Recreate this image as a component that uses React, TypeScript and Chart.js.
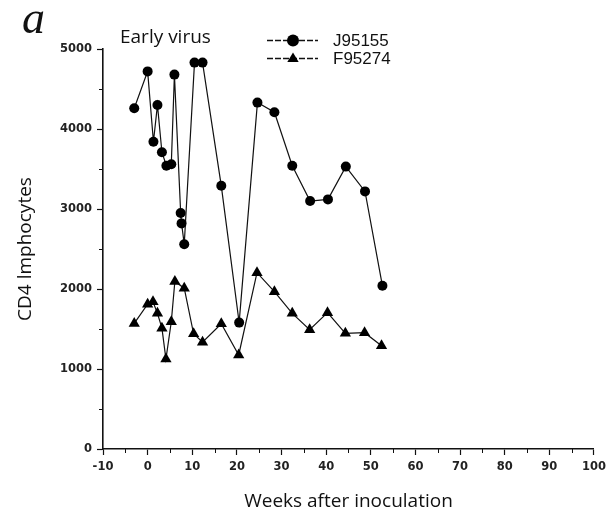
import React, { useEffect, useRef } from 'react';
import { Chart, registerables } from 'chart.js';

Chart.register(...registerables);

// ---- data ----
const j95155Weeks = [-3, 0, 1.3, 2.2, 3.2, 4.2, 5.3, 6, 7.4, 7.6, 8.2, 10.5, 12.3, 16.5, 20.5, 24.6, 28.4, 32.4, 36.4, 40.4, 44.4, 48.7, 52.6];
const j95155Counts = [4260, 4720, 3840, 4300, 3710, 3540, 3560, 4680, 2950, 2820, 2560, 4830, 4830, 3290, 1580, 4330, 4210, 3540, 3100, 3120, 3530, 3220, 2040];

const f95274Weeks = [-3, 0, 1.2, 2.2, 3.2, 4.1, 5.3, 6.1, 8.2, 10.3, 12.3, 16.5, 20.4, 24.5, 28.4, 32.4, 36.3, 40.3, 44.3, 48.6, 52.4];
const f95274Counts = [1570, 1810, 1840, 1696, 1510, 1125, 1590, 2095, 2010, 1440, 1335, 1565, 1175, 2204, 1966, 1696, 1492, 1704, 1446, 1454, 1290];

const seriesLabels = ['J95155', 'F95274'];
const seriesMarkers = ['circle', 'triangle'];

const xTickValues = [-10, 0, 10, 20, 30, 40, 50, 60, 70, 80, 90, 100];
const xMinorTicks = [-5, 5, 15, 25, 35, 45, 55, 65, 75, 85, 95];
const yTickValues = [0, 1000, 2000, 3000, 4000, 5000];
const yMinorTicks = [500, 1500, 2500, 3500, 4500];

const panelLetter = 'a';
const panelTitle = 'Early virus';
const xTitle = 'Weeks after inoculation';
const yTitle = 'CD4 lmphocytes';

const INK = '#111';

function drawMarker(ctx: CanvasRenderingContext2D, style: string, x: number, y: number, r: number) {
  ctx.beginPath();
  if (style === 'triangle') {
    ctx.moveTo(x, y - r);
    ctx.lineTo(x + r * 0.95, y + r * 0.6);
    ctx.lineTo(x - r * 0.95, y + r * 0.6);
    ctx.closePath();
  } else {
    ctx.arc(x, y, r, 0, Math.PI * 2);
  }
  ctx.fill();
}

const decorPlugin = {
  id: 'decor',
  afterDraw(chart: any) {
    const ctx: CanvasRenderingContext2D = chart.ctx;
    const xs = chart.scales.x;
    const ys = chart.scales.y;
    const area = chart.chartArea;
    ctx.save();
    // minor ticks
    ctx.strokeStyle = INK;
    ctx.lineWidth = 1;
    ctx.beginPath();
    for (const v of xMinorTicks) {
      const px = Math.round(xs.getPixelForValue(v)) + 0.5;
      ctx.moveTo(px, area.bottom);
      ctx.lineTo(px, area.bottom + 4);
    }
    for (const v of yMinorTicks) {
      const py = Math.round(ys.getPixelForValue(v)) + 0.5;
      ctx.moveTo(area.left, py);
      ctx.lineTo(area.left - 4, py);
    }
    ctx.stroke();

    // panel letter
    ctx.fillStyle = INK;
    ctx.textBaseline = 'alphabetic';
    ctx.textAlign = 'left';
    ctx.font = 'italic 46px "Liberation Serif"';
    ctx.fillText(panelLetter, 22, 33);

    // panel title
    ctx.font = '19px "Open Sans"';
    ctx.fillText(panelTitle, 120, 43);

    // legend
    const rows = [40, 58];
    chart.data.datasets.forEach((ds: any, i: number) => {
      const y = rows[i];
      ctx.strokeStyle = INK;
      ctx.lineWidth = 1.3;
      ctx.setLineDash([6, 2]);
      ctx.beginPath();
      ctx.moveTo(267, y + 0.5);
      ctx.lineTo(318, y + 0.5);
      ctx.stroke();
      ctx.setLineDash([]);
      ctx.fillStyle = '#000';
      drawMarker(ctx, seriesMarkers[i], 293, y + 0.5, 6);
      ctx.fillStyle = INK;
      ctx.font = '17px "Liberation Sans"';
      ctx.textBaseline = 'middle';
      ctx.fillText(ds.label, 333, y + 1);
    });
    ctx.restore();
  },
};

export default function App() {
  const canvasRef = useRef<HTMLCanvasElement | null>(null);

  useEffect(() => {
    const canvas = canvasRef.current;
    if (!canvas) return;
    const tickFont = { family: '"DejaVu Sans"', size: 11.5, weight: 'bold' as const };
    const chart = new Chart(canvas, {
      type: 'line',
      data: {
        datasets: [
          {
            label: seriesLabels[0],
            data: j95155Weeks.map((w, i) => ({ x: w, y: j95155Counts[i] })),
            borderColor: INK,
            borderWidth: 1.2,
            pointStyle: seriesMarkers[0] as any,
            pointRadius: 5,
            pointBackgroundColor: '#000',
            pointBorderColor: '#000',
            pointBorderWidth: 0,
            tension: 0,
            fill: false,
          },
          {
            label: seriesLabels[1],
            data: f95274Weeks.map((w, i) => ({ x: w, y: f95274Counts[i] })),
            borderColor: INK,
            borderWidth: 1.2,
            pointStyle: seriesMarkers[1] as any,
            pointRadius: 6.5,
            pointBackgroundColor: '#000',
            pointBorderColor: '#000',
            pointBorderWidth: 0,
            tension: 0,
            fill: false,
          },
        ],
      },
      options: {
        responsive: false,
        animation: false,
        events: [],
        layout: { padding: { top: 49, right: 14, left: 0, bottom: 0 } },
        plugins: { legend: { display: false }, tooltip: { enabled: false }, title: { display: false } },
        scales: {
          x: {
            type: 'linear',
            min: -10,
            max: 100,
            afterBuildTicks: (s: any) => {
              s.ticks = xTickValues.map((v) => ({ value: v }));
            },
            afterFit: (s: any) => {
              s.height = 68;
            },
            grid: { display: true, drawOnChartArea: false, drawTicks: true, tickLength: 6, color: INK, tickColor: INK, tickWidth: 1.2 },
            border: { display: true, color: INK, width: 1.6 },
            ticks: { font: tickFont, color: '#222', padding: 5, maxRotation: 0, autoSkip: false, callback: (v: any) => String(v) },
            title: { display: true, text: xTitle, color: INK, font: { family: '"Open Sans"', size: 19 }, padding: { top: 0, bottom: 4 } },
          },
          y: {
            type: 'linear',
            min: 0,
            max: 5000,
            afterBuildTicks: (s: any) => {
              s.ticks = yTickValues.map((v) => ({ value: v }));
            },
            afterFit: (s: any) => {
              s.width = 103;
            },
            grid: { display: true, drawOnChartArea: false, drawTicks: true, tickLength: 6, color: INK, tickColor: INK, tickWidth: 1.2 },
            border: { display: true, color: INK, width: 1.6 },
            ticks: { font: tickFont, color: '#222', padding: 5, autoSkip: false, callback: (v: any) => String(v) },
            title: { display: true, text: yTitle, color: INK, font: { family: '"Open Sans"', size: 19 }, padding: { top: 14, bottom: 0 } },
          },
        },
      },
      plugins: [decorPlugin],
    });
    return () => chart.destroy();
  }, []);

  return (
    <div style={{ position: 'absolute', left: 0, top: 0, width: 611, height: 517, background: '#fff' }}>
      <canvas ref={canvasRef} width={611} height={517} style={{ display: 'block', width: 611, height: 517 }} />
    </div>
  );
}
